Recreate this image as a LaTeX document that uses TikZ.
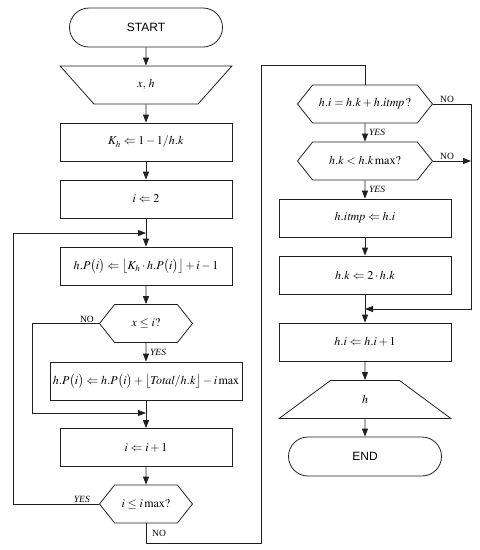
\documentclass[tikz,border=0pt]{standalone}
\usepackage{amsmath}
\usepackage{mathptmx}
\usepackage{fontspec}
\setmainfont{Liberation Serif}
\setsansfont{Liberation Sans}
\usepackage{tikz}
\usetikzlibrary{arrows.meta, shapes.geometric, shapes.misc, shapes.symbols}
\definecolor{fc_line}{HTML}{231F20}

\begin{document}
\begin{tikzpicture}[
    x=1pt, y=-1pt,
    line/.style={draw=fc_line, line width=0.8pt},
    flow/.style={line, -{Triangle[length=8pt, width=6pt]}},
    term/.style={rounded rectangle, line, minimum width=153pt, minimum height=39pt,
        inner sep=0pt, font=\sffamily\fontsize{12}{14}\selectfont},
    proc/.style={rectangle, line, minimum width=172pt, minimum height=38pt,
        inner sep=2pt, font=\fontsize{12}{14}\selectfont},
    io/.style={trapezium, trapezium stretches=true, trapezium left angle=62,
        trapezium right angle=62, line, minimum width=172pt, minimum height=38pt,
        inner sep=0pt, font=\fontsize{12}{14}\selectfont},
    test/.style={signal, signal to=west and east, signal pointer angle=103, line,
        minimum width=93pt, minimum height=38pt, inner sep=0pt,
        font=\fontsize{12}{14}\selectfont},
    lbl/.style={font=\fontsize{9.5}{11}\selectfont, inner sep=1pt}
]
\useasboundingbox (0,0) rectangle (480,550);

% ----------------------------------------------------------
% Linke Spalte
% ----------------------------------------------------------
\node[term] (n_start) at (146,27.5) {START};
\node[io, shape border rotate=180] (n_in) at (146,85) {$x,\,h$};
\node[proc] (n_kh) at (146,142) {$K_h \Leftarrow 1-1/h.k$};
\node[proc] (n_i2) at (146,199) {$i \Leftarrow 2$};
\node[proc] (n_hp) at (146,266)
    {$h.P\bigl(i\bigr) \Leftarrow \bigl\lfloor K_h\cdot h.P\bigl(i\bigr)\bigr\rfloor + i - 1$};
\node[test] (n_c1) at (146,323.5) {$x \le i?$};
\node[proc, minimum width=192pt, inner sep=1pt] (n_hp2) at (146,381)
    {$h.P\bigl(i\bigr) \Leftarrow h.P\bigl(i\bigr) + \bigl\lfloor \mathit{Total}/h.k\bigr\rfloor - i\max$};
\node[proc] (n_inc) at (146,447.5) {$i \Leftarrow i+1$};
\node[test] (n_c2) at (146,504) {$i \le i\max?$};

% ----------------------------------------------------------
% Rechte Spalte
% ----------------------------------------------------------
\node[test, minimum width=135pt] (n_c3) at (365,104) {$h.i = h.k + h.\mathit{itmp}\,?$};
\node[test, minimum width=135pt] (n_c4) at (365,161) {$h.k < h.k\max?$};
\node[proc] (n_itmp) at (365,218) {$h.\mathit{itmp} \Leftarrow h.i$};
\node[proc] (n_k2) at (365,275) {$h.k \Leftarrow 2\cdot h.k$};
\node[proc] (n_hi) at (365,342) {$h.i \Leftarrow h.i + 1$};
\node[io] (n_out) at (365,399.5) {$h$};
\node[term] (n_end) at (365,456.5) {END};

% Hilfspunkte fuer die Rueckfuehrungen
\coordinate (j_loop) at (146,233);
\coordinate (x_loop) at (13,233);
\coordinate (j_no) at (146,413);
\coordinate (x_no) at (32,413);
\coordinate (x_bot) at (261,543);
\coordinate (x_top) at (261,65);
\coordinate (j_merge) at (365,309);
\coordinate (x_right) at (471,309);

% ----------------------------------------------------------
% Verbindungen
% ----------------------------------------------------------
\draw[flow] (n_start) -- (n_in);
\draw[flow] (n_in) -- (n_kh);
\draw[flow] (n_kh) -- (n_i2);
\draw[flow] (n_i2) -- (n_hp);
\draw[flow] (n_hp) -- (n_c1);
\draw[flow] (n_c1) -- (n_hp2);
\draw[flow] (n_hp2) -- (n_inc);
\draw[flow] (n_inc) -- (n_c2);
\draw[flow] (n_c1.west) -| (x_no) -- (j_no);
\draw[flow] (n_c2.west) -| (x_loop) -- (j_loop);
\draw[line] (n_c2.south) |- (x_bot) -- (x_top) -| (n_c3.north);

\draw[flow] (n_c3) -- (n_c4);
\draw[flow] (n_c4) -- (n_itmp);
\draw[flow] (n_itmp) -- (n_k2);
\draw[flow] (n_k2) -- (n_hi);
\draw[flow] (n_hi) -- (n_out);
\draw[flow] (n_out) -- (n_end);
\draw[flow] (n_c3.east) -| (x_right) -- (j_merge);
\draw[flow] (n_c4.east) -- (n_c4.east -| x_right);

% Beschriftungen der Verzweigungen
\node[lbl, anchor=south east] (l_no1) at ([xshift=-4pt]n_c1.west) {NO};
\node[lbl, anchor=west] (l_yes1) at ([xshift=3pt, yshift=-9pt]n_c1.south) {\itshape YES};
\node[lbl, anchor=south east] (l_yes2) at ([xshift=-8pt]n_c2.west) {\itshape YES};
\node[lbl, anchor=west] (l_no2) at ([xshift=5pt, yshift=-10pt]n_c2.south) {NO};
\node[lbl, anchor=south west] (l_no3) at ([xshift=6pt]n_c3.east) {NO};
\node[lbl, anchor=west] (l_yes3) at ([xshift=3pt, yshift=-9pt]n_c3.south) {\itshape YES};
\node[lbl, anchor=south west] (l_no4) at ([xshift=6pt]n_c4.east) {NO};
\node[lbl, anchor=west] (l_yes4) at ([xshift=3pt, yshift=-9pt]n_c4.south) {\itshape YES};
\end{tikzpicture}
\end{document}
